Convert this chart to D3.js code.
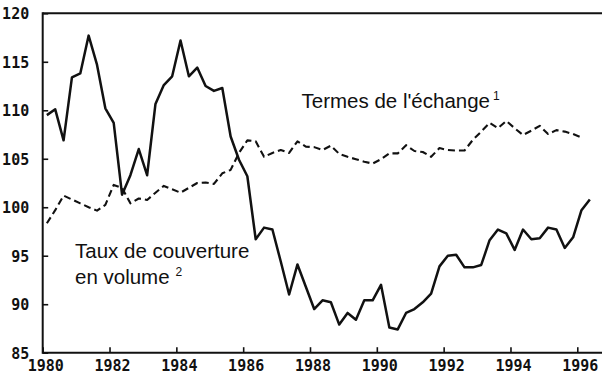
<!DOCTYPE html>
<html>
<head>
<meta charset="utf-8">
<script src="https://cdn.jsdelivr.net/npm/d3@7"></script>
<style>
  html, body { margin: 0; padding: 0; background: #fff; }
  svg { display: block; }
  .tick-label { font-family: "DejaVu Sans Mono", monospace; font-weight: bold; font-size: 15px; fill: #111; }
  .series-label { font-family: "Liberation Sans", Arial, sans-serif; font-size: 20.5px; fill: #111; }
</style>
</head>
<body>
<script>
// Quarterly indices, first quarter 1980 to the latest available quarter
const startYear = 1980;
const termesEchange = [
  98.35, 99.7, 101.2, 100.8,
  100.4, 100.0, 99.65, 100.25,
  102.3, 102.0, 100.4, 100.9,
  100.75, 101.5, 102.2, 101.85,
  101.5, 102.0, 102.5, 102.55,
  102.4, 103.5, 103.85, 105.6,
  106.9, 106.8, 105.2, 105.6,
  105.9, 105.6, 106.8, 106.25,
  106.2, 105.9, 106.35, 105.5,
  105.2, 104.95, 104.7, 104.5,
  104.95, 105.55, 105.55, 106.4,
  105.8, 105.7, 105.2, 106.1,
  105.9, 105.85, 105.85, 106.95,
  107.8, 108.7, 108.15, 108.9,
  108.15, 107.45, 107.9, 108.4,
  107.55, 107.95, 107.8, 107.55,
  107.2
];
const tauxCouverture = [
  109.5, 110.1, 106.9, 113.4,
  113.8, 117.7, 114.7, 110.2,
  108.7, 101.3, 103.3, 106.0,
  103.3, 110.65, 112.6, 113.5,
  117.2, 113.5, 114.4, 112.5,
  112.0, 112.3, 107.3, 104.9,
  103.2, 96.7, 97.9, 97.7,
  94.4, 91.0, 94.1, 91.8,
  89.5, 90.4, 90.2, 87.9,
  89.1, 88.4, 90.4, 90.4,
  92.0, 87.6, 87.4, 89.1,
  89.5, 90.2, 91.1, 93.9,
  95.0, 95.1, 93.8, 93.8,
  94.05, 96.6, 97.7, 97.3,
  95.6, 97.7, 96.7, 96.8,
  97.9, 97.7, 95.8, 96.9,
  99.7, 100.8
];
const xTickValues = [1980, 1982, 1984, 1986, 1988, 1990, 1992, 1994, 1996];
const yTickValues = [85, 90, 95, 100, 105, 110, 115, 120];

const W = 602, H = 375;
const plotLeft = 42.7, plotRight = 577.3, plotTop = 13.3, plotBottom = 352.7;

const svg = d3.select("body").append("svg")
  .attr("width", W).attr("height", H);

const x = d3.scaleLinear().domain([1980, 1996]).range([plotLeft, plotRight]);
const y = d3.scaleLinear().domain([85, 120]).range([plotBottom, plotTop]);

// each value sits at the middle of its quarter
const toPoints = vals => vals.map((v, i) => ({ t: startYear + (i + 0.5) / 4, v }));
const line = d3.line().x(d => x(d.t)).y(d => y(d.v));

// frame: left axis, bottom axis and top rule, running to the right edge
const frame = svg.append("g").attr("stroke", "#111").attr("stroke-width", 2).attr("fill", "none");
frame.append("line").attr("x1", plotLeft).attr("x2", W).attr("y1", plotBottom).attr("y2", plotBottom);
frame.append("line").attr("x1", plotLeft).attr("x2", plotLeft).attr("y1", plotTop - 1).attr("y2", plotBottom + 1);
frame.append("line").attr("x1", plotLeft).attr("x2", W).attr("y1", plotTop).attr("y2", plotTop);

// y axis: inward ticks, labels on the left
const yAxis = d3.axisLeft(y).tickValues(yTickValues).tickSize(-5.5).tickPadding(13.5)
  .tickFormat(d3.format("d"));
const gy = svg.append("g").attr("transform", `translate(${plotLeft},0)`).call(yAxis);
gy.select(".domain").remove();
gy.selectAll(".tick line").attr("stroke", "#111").attr("stroke-width", 1.6);
gy.selectAll(".tick text").attr("class", "tick-label").attr("fill", null).attr("dy", "0.36em");

// x axis: upward ticks, labels below
const xAxis = d3.axisBottom(x).tickValues(xTickValues).tickSize(-5.5).tickPadding(10)
  .tickFormat(d3.format("d"));
const gx = svg.append("g").attr("transform", `translate(0,${plotBottom})`).call(xAxis);
gx.select(".domain").remove();
gx.selectAll(".tick line").attr("stroke", "#111").attr("stroke-width", 1.6);
gx.selectAll(".tick text").attr("class", "tick-label").attr("fill", null)
  .attr("font-size", "14.5px")
  .attr("dy", null).attr("y", 18.4).attr("dx", 2.5);

// series
svg.append("path")
  .datum(toPoints(termesEchange))
  .attr("d", line)
  .attr("fill", "none").attr("stroke", "#111").attr("stroke-width", 2.1)
  .attr("stroke-dasharray", "7,4").attr("stroke-linejoin", "round");

svg.append("path")
  .datum(toPoints(tauxCouverture))
  .attr("d", line)
  .attr("fill", "none").attr("stroke", "#111").attr("stroke-width", 2.5)
  .attr("stroke-linejoin", "round");

// series labels
const t1 = svg.append("text").attr("class", "series-label").attr("x", 301.5).attr("y", 107.5);
t1.append("tspan").text("Termes de l'échange");
t1.append("tspan").text("1").attr("font-size", "12px").attr("dx", 3).attr("dy", -8);

const t2 = svg.append("text").attr("class", "series-label").attr("x", 75).attr("y", 258.3);
t2.text("Taux de couverture");
const t3 = svg.append("text").attr("class", "series-label").attr("x", 75).attr("y", 283.8);
t3.append("tspan").text("en volume");
t3.append("tspan").text("2").attr("font-size", "12px").attr("dx", 6).attr("dy", -8);
</script>
</body>
</html>
